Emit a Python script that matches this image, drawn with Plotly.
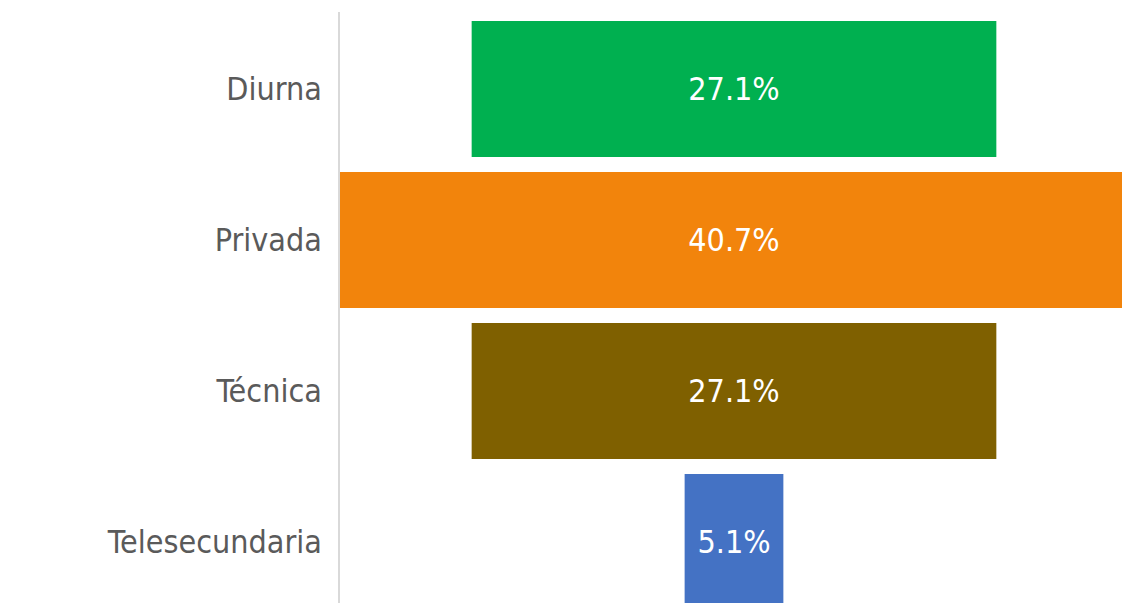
import plotly.graph_objects as go

categories = ["Diurna", "Privada", "Técnica", "Telesecundaria"]
values = [27.1, 40.7, 27.1, 5.1]
labels = ["27.1%", "40.7%", "27.1%", "5.1%"]
colors = ["#00B050", "#F2840C", "#7F6000", "#4472C4"]

half = max(values) / 2

fig = go.Figure()
fig.add_trace(
    go.Bar(
        y=categories,
        x=values,
        base=[-v / 2 for v in values],
        orientation="h",
        marker=dict(color=colors, line=dict(width=0)),
        width=0.9,
        text=labels,
        textposition="inside",
        insidetextanchor="middle",
        textangle=0,
        textfont=dict(color="white", size=32,
                      family="DejaVu Sans Condensed, Liberation Sans Narrow, Liberation Sans"),
        hoverinfo="skip",
    )
)

# page body has an 8px margin, so the figure is shifted by 8px
fig.update_layout(
    width=1130,
    height=603,
    margin=dict(l=332, r=10, t=4, b=8),
    paper_bgcolor="white",
    plot_bgcolor="white",
    showlegend=False,
    font=dict(family="DejaVu Sans Condensed, Liberation Sans Narrow, Liberation Sans",
              color="#5a5a5a"),
    xaxis=dict(range=[-half, half], visible=False, fixedrange=True),
    yaxis=dict(
        categoryorder="array",
        categoryarray=categories,
        range=[3.404, -0.51],
        autorange=False,
        showline=True,
        linecolor="#d9d9d9",
        linewidth=1.5,
        showgrid=False,
        zeroline=False,
        ticks="",
        ticklabelstandoff=10,
        tickfont=dict(size=32, color="#5a5a5a"),
    ),
)

fig.write_html("out.html")
